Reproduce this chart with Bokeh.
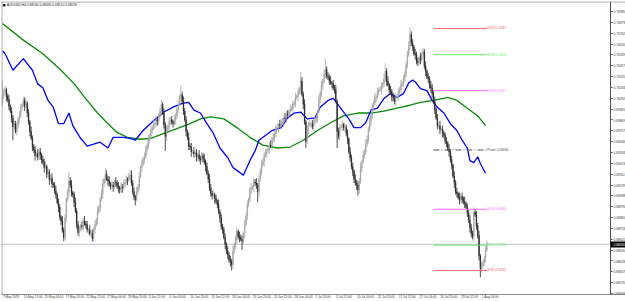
from bokeh.plotting import figure
from bokeh.models import (Range1d, FixedTicker, PrintfTickFormatter, Span, Label,
                          ColumnDataSource, LinearAxis)
from bokeh.embed import file_html
from bokeh.resources import INLINE

# ---------------- data (prices in points of 0.0001) ----------------
symbol = "AUDUSD,H4"
first_open_pts = 7005
close_pts = [
    7012, 7016, 7018, 7011, 7008, 7001, 6996, 6989, 6980, 6983, 6975,
    6981, 6988, 6991, 7000, 7003, 7007, 7001, 7004, 6994, 6985,
    6975, 6968, 6959, 6956, 6950, 6952, 6949, 6954, 6951, 6946,
    6944, 6938, 6939, 6931, 6933, 6925, 6927, 6921, 6920, 6914,
    6910, 6902, 6897, 6887, 6883, 6873, 6866, 6886, 6905, 6913,
    6924, 6920, 6912, 6910, 6902, 6893, 6879, 6871, 6876, 6878,
    6877, 6883, 6880, 6879, 6874, 6874, 6870, 6870, 6865, 6874,
    6879, 6884, 6893, 6896, 6905, 6911, 6921, 6926, 6931, 6926,
    6924, 6921, 6919, 6920, 6918, 6923, 6922, 6919, 6917, 6915,
    6918, 6917, 6921, 6922, 6926, 6925, 6929, 6930, 6922, 6913,
    6908, 6905, 6913, 6918, 6929, 6938, 6942, 6946, 6949, 6956,
    6960, 6967, 6970, 6977, 6978, 6982, 6983, 6987, 6986, 6991,
    6996, 7003, 6994, 6982, 6970, 6977, 6980, 6985, 6987, 6985,
    6983, 6987, 6991, 6998, 7003, 7011, 7013, 7006, 6996, 6987,
    6975, 6969, 6960, 6959, 6954, 6954, 6952, 6953, 6949, 6951,
    6947, 6946, 6950, 6947, 6944, 6939, 6932, 6926, 6917, 6911,
    6909, 6910, 6906, 6903, 6900, 6892, 6886, 6877, 6874, 6866,
    6859, 6852, 6848, 6843, 6841, 6838, 6852, 6859, 6864, 6872,
    6867, 6866, 6864, 6862, 6870, 6879, 6888, 6900, 6905, 6915,
    6917, 6918, 6923, 6922, 6920, 6913, 6926, 6934, 6941, 6944,
    6951, 6952, 6956, 6957, 6961, 6960, 6967, 6969, 6973, 6979,
    6979, 6982, 6981, 6985, 6985, 6989, 6988, 6993, 6992, 6996,
    6998, 6998, 7003, 7004, 7010, 7011, 7016, 7018, 7027, 7013,
    7003, 6985, 6965, 6977, 6982, 6983, 6983, 6980, 6985, 6987,
    6989, 6996, 7008, 7014, 7023, 7027, 7034, 7039, 7032, 7031,
    7027, 7025, 7024, 7020, 7018, 7006, 6975, 6970, 6979, 6980,
    6982, 6979, 6979, 6973, 6967, 6954, 6948, 6939, 6934, 6926,
    6922, 6920, 6915, 6924, 6938, 6944, 6951, 6954, 6962, 6967,
    6977, 6985, 6991, 7000, 7004, 7010, 7011, 7016, 7018, 7018,
    7022, 7024, 7029, 7037, 7027, 7023, 7018, 7016, 7011, 7010,
    7006, 7010, 7011, 7016, 7018, 7023, 7025, 7029, 7034, 7044,
    7054, 7063, 7075, 7066, 7062, 7055, 7054, 7047, 7046, 7051,
    7049, 7054, 7057, 7042, 7037, 7031, 7029, 7022, 7020, 7014,
    7006, 6998, 6989, 6981, 6981, 6977, 6977, 6973, 6971, 6965,
    6963, 6957, 6954, 6946, 6940, 6929, 6922, 6913, 6911, 6907,
    6905, 6908, 6905, 6903, 6901, 6897, 6891, 6884, 6876, 6870,
    6867, 6892, 6889, 6878, 6868, 6847, 6834, 6837, 6840, 6844, 6853, 6859,
]
# upper / lower wick length of every bar in points (base-36 digits)
hi_ext = ("g342352433 3425324352 4253342534 2435243352 3524325342 3945235342 "
          "2435342534 3425334526 4352432534 2534342355 3425342534 4352435243 "
          "3442534253 4253342935 3425342534 2534352435 4352425343 3425343524 "
          "4253425342 3524352435 4352435243 3425342534 2534352439 4352435243 "
          "34253425b3 4352435243 3425342534 2534352435 4352435243 3425835243 "
          "4352435243 3457342534 2534352435 4352435243 3425342534 2534352435 "
          "4353435243 344")
lo_ext = ("34253425e3 2435243524 3524352435 4352435243 3425342434 2534352435 "
          "4352435243 3425342534 2534352435 4352435243 3462342534 2534352435 "
          "43524f5243 3425342534 2534352435 4352435243 3425342534 2534356435 "
          "4352935243 342534b534 2534352435 4352435243 3425342534 2537352435 "
          "4352435243 3425342h34 2534352435 4356435243 3425342534 2534352435 "
          "4352435243 3425342534 2534352435 4352435243 3425342534 2534352435 "
          "4352435943 342")

blue_k = [0, 2, 8, 16, 23, 27, 31, 35, 39, 43, 47, 51, 54, 60, 65, 75, 81, 85, 93, 98,
          102, 108, 116, 124, 131, 138, 143, 147, 152, 157, 162, 167, 173, 177, 180, 185,
          190, 194, 197, 204, 207, 214, 219, 224, 229, 234, 240, 244, 250, 254, 257, 262,
          266, 270, 275, 279, 283, 288, 293, 298, 303, 308, 312, 315, 317, 321, 326, 330,
          334, 339, 344, 349, 353, 357, 359, 362, 365, 367, 371]
blue_pts = [7058, 7055, 7038, 7050, 7038, 7024, 7020, 7007, 7000, 6983, 6983, 6994, 6981,
            6968, 6960, 6964, 6958, 6969, 6969, 6968, 6966, 6976, 6986, 6995, 7000, 7004,
            7005, 6997, 6994, 6983, 6973, 6958, 6948, 6938, 6935, 6930, 6945, 6955, 6966,
            6973, 6976, 6979, 6989, 6994, 6995, 6988, 6989, 7000, 7007, 7009, 7004, 6995,
            6988, 6979, 6979, 6984, 6997, 6999, 7009, 7014, 7010, 7014, 7025, 7028, 7026,
            7019, 7017, 7007, 7000, 6994, 6983, 6976, 6966, 6958, 6945, 6943, 6949, 6942,
            6932]
green_k = [0, 16, 31, 45, 55, 65, 73, 81, 88, 96, 106, 114, 124, 134, 144, 152, 160, 170,
           180, 190, 200, 211, 221, 231, 242, 252, 262, 273, 283, 293, 303, 313, 321, 331,
           342, 349, 357, 365, 371]
green_pts = [7086, 7069, 7055, 7038, 7024, 7007, 6994, 6983, 6974, 6969, 6967, 6968, 6973,
             6978, 6983, 6988, 6990, 6988, 6979, 6969, 6961, 6958, 6959, 6966, 6976, 6984,
             6991, 6994, 6994, 6996, 6999, 7002, 7005, 7007, 7010, 7007, 6999, 6991, 6981]

date_bar = [0, 16, 32, 48, 64, 80, 96, 112, 128, 144, 160, 176, 192, 208, 224, 240, 256,
            272, 288, 304, 320, 336, 352, 368]
date_text = ["7 May 2019", "10 May 12:00", "15 May 04:00", "17 May 20:00", "22 May 12:00",
             "27 May 04:00", "29 May 20:00", "3 Jun 12:00", "6 Jun 04:00", "10 Jun 20:00",
             "13 Jun 12:00", "18 Jun 04:00", "20 Jun 20:00", "25 Jun 12:00", "28 Jun 04:00",
             "2 Jul 20:00", "5 Jul 12:00", "10 Jul 04:00", "12 Jul 20:00", "17 Jul 12:00",
             "22 Jul 04:00", "24 Jul 20:00", "29 Jul 12:00", "1 Aug 04:00"]
price_ticks = [0.70985, 0.70873, 0.70762, 0.70650, 0.70539, 0.70427, 0.70315, 0.70204,
               0.70092, 0.69981, 0.69869, 0.69757, 0.69646, 0.69534, 0.69423, 0.69311,
               0.69199, 0.69088, 0.68976, 0.68865, 0.68753, 0.68641, 0.68530, 0.68418,
               0.68307, 0.68195, 0.68083]
pivot_names = ["R3S", "R2S", "R1S", "Pivot:", "S1S", "S2S", "S3S"]
pivot_vals = [0.7081, 0.7054, 0.7017, 0.6956, 0.6895, 0.6858, 0.6832]
pivot_start_bar = 331

# ---------------- derived ----------------
PT = 10000.0
hx = [int(c, 36) for c in hi_ext if c != " "]
lx = [int(c, 36) for c in lo_ext if c != " "]
n = len(close_pts)
closes = [c / PT for c in close_pts]
opens = [first_open_pts / PT] + closes[:-1]
highs = [max(o, c) + h / PT for o, c, h in zip(opens, closes, hx)]
lows = [min(o, c) - l / PT for o, c, l in zip(opens, closes, lx)]
UP, DN = "#a4a4a4", "#262626"
src = ColumnDataSource(dict(
    k=list(range(n)), high=highs, low=lows,
    top=[max(o, c) for o, c in zip(opens, closes)],
    bot=[min(o, c) for o, c in zip(opens, closes)],
    col=[UP if c >= o else DN for o, c in zip(opens, closes)],
))

Y0, Y1 = 0.680727, 0.710875
BAR_PX = 1.302                      # horizontal pixels per H4 bar
X0 = -0.77
X1 = X0 + 624.0 / BAR_PX            # frame spans the whole width
SCALE_X = X0 + 609.0 / BAR_PX       # where the price scale sits
FONT = "Liberation Sans"
DATE_FS = 3.1

# approximate advance widths (em) for centring left-aligned date labels on the axis
_W = {" ": 0.278, ":": 0.278, "M": 0.833, "J": 0.5, "A": 0.667, "a": 0.556, "y": 0.5,
      "u": 0.556, "n": 0.556, "l": 0.222, "g": 0.556}


def text_w(s):
    return sum(_W.get(ch, 0.556) for ch in s) * DATE_FS


label_pos = [b + 0.3 + text_w(t) / 2.0 / BAR_PX for b, t in zip(date_bar, date_text)]

p = figure(width=625, height=301, x_range=Range1d(X0, X1), y_range=Range1d(Y0, Y1),
           output_backend="svg", toolbar_location=None, y_axis_location=None,
           min_border_left=1, min_border_top=1, min_border_right=0, min_border_bottom=7)
p.background_fill_color = "white"
p.border_fill_color = "white"
p.outline_line_color = None
p.grid.visible = False

# frame borders (left, top) like the terminal window
p.add_layout(Span(location=X0 + 0.4 / BAR_PX, dimension="height", line_color="#8c8c8c",
                  line_width=1))
p.add_layout(Span(location=Y1 - 0.4 * (Y1 - Y0) / 293.0, dimension="width",
                  line_color="#8c8c8c", line_width=1))

xa = p.xaxis[0]
xa.ticker = FixedTicker(ticks=label_pos)
xa.major_label_overrides = {pos: t for pos, t in zip(label_pos, date_text)}
xa.major_label_text_font_size = f"{DATE_FS}px"
xa.major_label_text_font = FONT
xa.major_label_text_color = "#333333"
xa.major_label_standoff = 1
xa.major_tick_out = 0
xa.major_tick_in = 0
xa.minor_tick_out = 0
xa.minor_tick_in = 0
xa.axis_line_color = "#8c8c8c"
xa.major_tick_line_color = None

# price scale
ya = LinearAxis(fixed_location=SCALE_X, ticker=FixedTicker(ticks=price_ticks),
                formatter=PrintfTickFormatter(format="%.5f"),
                major_label_text_font_size="3.2px", major_label_text_font=FONT,
                major_label_text_color="#333333", major_tick_out=2, major_tick_in=0,
                minor_tick_out=0, minor_tick_in=0, major_label_standoff=1,
                axis_line_color="#555555", major_tick_line_color="#555555")
p.add_layout(ya, "right")

# current price tag on the price scale: a black box (thick tick) + white price text
tag_box = LinearAxis(fixed_location=SCALE_X, ticker=FixedTicker(ticks=[closes[-1]]),
                     major_tick_out=15, major_tick_in=0, major_tick_line_width=6,
                     major_tick_line_color="black", major_tick_line_cap="butt",
                     minor_tick_out=0, minor_tick_in=0, axis_line_color=None,
                     major_label_overrides={closes[-1]: " "},
                     major_label_text_font_size="1px")
p.add_layout(tag_box, "right")
tag_txt = LinearAxis(fixed_location=SCALE_X, ticker=FixedTicker(ticks=[closes[-1]]),
                     major_tick_out=2, major_tick_in=0, major_tick_line_color=None,
                     minor_tick_out=0, minor_tick_in=0, axis_line_color=None,
                     formatter=PrintfTickFormatter(format="%.5f"), major_label_standoff=1,
                     major_label_text_font_size="3.2px", major_label_text_font=FONT,
                     major_label_text_color="white")
p.add_layout(tag_txt, "right")

# current price line
p.segment(x0=[X0], y0=[closes[-1]], x1=[SCALE_X], y1=[closes[-1]], line_color="#b9c2cb",
          line_width=1)

# moving averages
p.line(green_k, [v / PT for v in green_pts], line_color="#0a8a0a", line_width=1.3)
p.line(blue_k, [v / PT for v in blue_pts], line_color="#0000ff", line_width=1.3)

# candles
p.segment(x0="k", y0="high", x1="k", y1="low", line_color="col", line_width=0.8, source=src)
p.vbar(x="k", width=0.45, top="top", bottom="bot", fill_color="col", line_color="col",
       line_width=0.5, source=src)

# pivot levels
piv_colors = ["#ff6a6a", "#66ee66", "#ff66ff", "#555555", "#ff66ff", "#66ee66", "#ff6a6a"]
piv_dash = ["solid", "solid", "solid", "6 2 1 2", "solid", "solid", "solid"]
for name, v, c, d in zip(pivot_names, pivot_vals, piv_colors, piv_dash):
    p.segment(x0=[pivot_start_bar], y0=[v], x1=[n - 1], y1=[v], line_color=c,
              line_width=1, line_dash=d)
    p.add_layout(Label(x=n - 0.6, y=v, text=f"{name} {v:.4f}", text_font=FONT,
                       text_font_size="3.6px", text_color=c if c != "#555555" else "#444444",
                       text_baseline="middle", text_align="left"))

# title (symbol + last bar OHLC)
PX = (Y1 - Y0) / 293.0
title = f"{symbol}  {opens[-1]:.5f} {highs[-1]:.5f} {lows[-1]:.5f} {closes[-1]:.5f}"
p.add_layout(Label(x=0.2, y=Y1 - 3.6 * PX, text="\u25a0", text_font="DejaVu Sans",
                   text_font_size="3px", text_color="#000000", text_baseline="middle"))
p.add_layout(Label(x=3.2, y=Y1 - 3.6 * PX, text=title, text_font=FONT,
                   text_font_size="3.3px", text_color="#222222", text_baseline="middle"))

open("out.html", "w").write(file_html(p, INLINE))
